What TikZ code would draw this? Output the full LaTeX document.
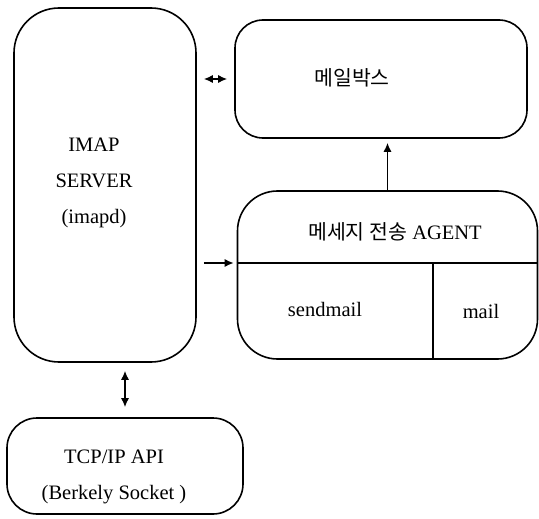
\documentclass[tikz,border=0pt]{standalone}
\usepackage{fontspec}
\setmainfont{Liberation Serif}
\newfontfamily\kr{Noto Sans CJK KR}
\usetikzlibrary{arrows.meta}
\tikzset{
	box/.style={draw, line width=1.6pt, rounded corners=#1, inner sep=0pt},
	box/.default=30pt,
	lbl/.style={font=\fontsize{20.5}{36}\selectfont, align=center},
	link/.style={line width=1.4pt, -{Latex[length=9pt,width=8pt]}},
	dlink/.style={line width=1.4pt, {Latex[length=9pt,width=8pt]}-{Latex[length=9pt,width=8pt]}}
}

\begin{document}
\begin{tikzpicture}[x=1pt, y=-1pt]
			%%%%% START %%%%%
			\useasboundingbox (0, 0) rectangle (539, 519);
			
			\node[box=45pt, minimum width=182pt, minimum height=354pt] (imap) at (105, 185) {};
			\node[box=28pt, minimum width=292pt, minimum height=118pt] (mailbox) at (381, 79) {};
			\node[box=40pt, minimum width=300pt, minimum height=168pt] (agent) at (387.5, 275) {};
			\node[box=30pt, minimum width=236pt, minimum height=96pt] (tcp) at (125, 466) {};
			
			% inner divisions of the agent box
			\coordinate (split) at (0, 263);
			\coordinate (vsplit) at (433, 263);
			\draw[line width=1.6pt] (agent.west |- split) -- (agent.east |- split);
			\draw[line width=1.6pt] (vsplit) -- (vsplit |- agent.south);
			
			\node[lbl] (imaplbl) at (94, 183) {IMAP\\SERVER\\(imapd)};
			\node[lbl] (mboxlbl) at (352, 78) {\kr 메일박스};
			\node[lbl] (agentlbl) at (395, 232) {{\kr 메세지 전송} AGENT};
			\node[lbl] (sendlbl) at (325, 309) {sendmail};
			\node[lbl] (maillbl) at (481, 311) {mail};
			\node[lbl] (tcplbl) at (114, 477) {TCP/IP API\\(Berkely Socket )};
			
			% connectors
			\draw[dlink, shorten <=7pt, shorten >=7pt] (imap.east |- mailbox.west) -- (mailbox.west);
			\draw[link, shorten >=4pt] (agent.north) -- (agent.north |- mailbox.south);
			\draw[link, shorten <=7pt, shorten >=3pt] (imap.east |- split) -- (agent.west |- split);
			\draw[dlink, shorten <=8pt, shorten >=10pt] (tcp.north |- imap.south) -- (tcp.north);
			
			%%%%% END %%%%%
\end{tikzpicture}
\end{document}
